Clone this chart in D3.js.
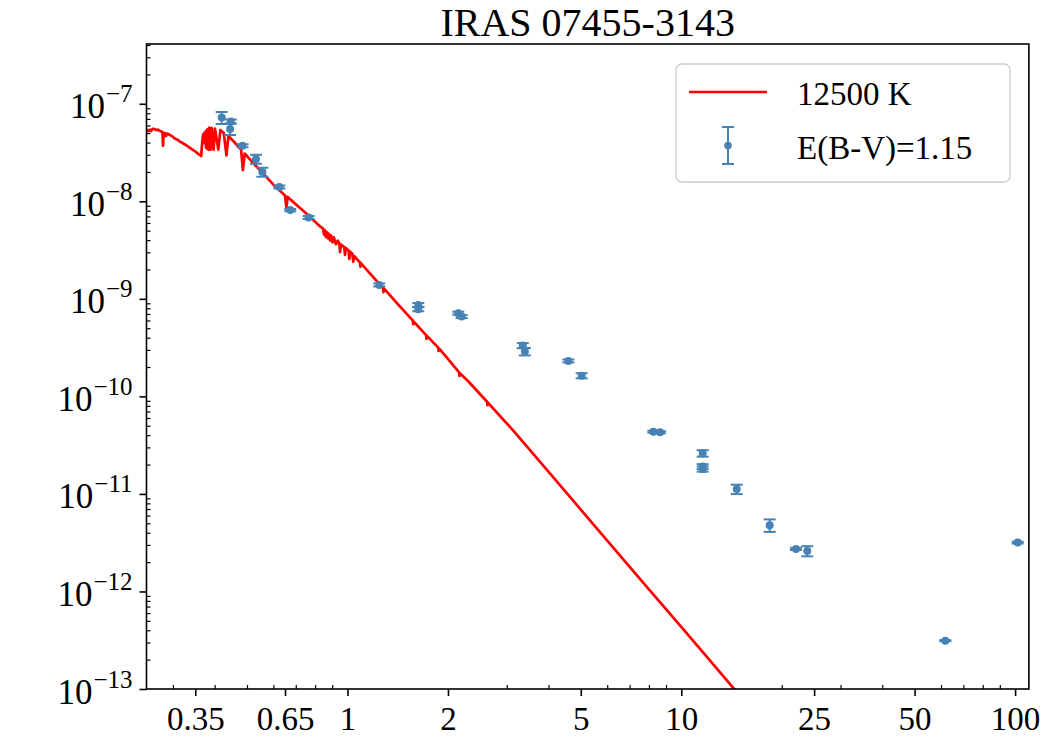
<!DOCTYPE html>
<html>
<head>
<meta charset="utf-8">
<script src="https://cdn.jsdelivr.net/npm/d3@7"></script>
<style>
  html, body { margin: 0; padding: 0; background: #ffffff; }
  svg { display: block; }
  text { font-family: "Liberation Serif", "DejaVu Serif", serif; fill: #000; }
</style>
</head>
<body>
<svg id="chart" width="1050" height="750"></svg>
<script>
// ---------------- data ----------------
const titleText = "IRAS 07455-3143";
const xLimits = [0.25, 110];
const yLimits = [1e-13, 4.1e-7];

// model spectrum (12500 K), wavelength in micron, flux
const modelWave = [
  0.250, 0.252, 0.254, 0.256, 0.258, 0.260, 0.262, 0.265, 0.268, 0.271,
  0.274, 0.277, 0.279, 0.2802, 0.2815, 0.284, 0.286, 0.288, 0.292, 0.296,
  0.300, 0.305, 0.310, 0.315, 0.320, 0.330, 0.340, 0.350, 0.358, 0.3646,
  0.3660, 0.3680, 0.3700, 0.3720, 0.3740, 0.3770, 0.3785, 0.3798, 0.3812, 0.3835,
  0.3858, 0.3889, 0.3920, 0.3970, 0.4010, 0.4102, 0.4160, 0.4260, 0.4340, 0.4400,
  0.4600, 0.4800, 0.4861, 0.4920, 0.5200, 0.5600, 0.6000, 0.6500, 0.6563, 0.6620,
  0.7000, 0.7500, 0.8000, 0.8204, 0.8300, 0.8450, 0.8502, 0.8545, 0.8598, 0.8630,
  0.8665, 0.8705, 0.8750, 0.8800, 0.8863, 0.8930, 0.9015, 0.9100, 0.9229, 0.9350,
  0.9450, 0.9500, 0.9560, 0.9780, 0.9830, 0.9890, 1.0080, 1.0130, 1.0190, 1.0350,
  1.0410, 1.0470, 1.0900, 1.0938, 1.0980, 1.2000, 1.2780, 1.2818, 1.2860, 1.4000,
  1.5700, 1.5740, 1.5780, 1.7200, 1.7250, 1.7300, 1.8700, 1.8750, 1.8800, 2.0000,
  2.1600, 2.1660, 2.1720, 2.3000, 2.6200, 2.6260, 2.6320, 3.1250, 4.0000, 5.0000,
  6.0000, 8.0000, 10.000, 12.000, 14.000, 16.000
];
const modelFlux = [
  5.13e-8, 5.37e-8, 5.25e-8, 5.43e-8, 5.25e-8, 5.47e-8, 5.56e-8, 5.47e-8, 5.37e-8, 5.43e-8,
  5.25e-8, 5.19e-8, 5.13e-8, 3.72e-8, 5.01e-8, 5.01e-8, 4.68e-8, 4.95e-8, 4.84e-8, 4.73e-8,
  4.57e-8, 4.37e-8, 4.27e-8, 4.07e-8, 3.98e-8, 3.72e-8, 3.47e-8, 3.24e-8, 3.05e-8, 2.92e-8,
  3.55e-8, 4.37e-8, 4.90e-8, 3.98e-8, 5.13e-8, 3.55e-8, 5.37e-8, 3.47e-8, 5.50e-8, 3.39e-8,
  5.69e-8, 3.39e-8, 5.62e-8, 3.39e-8, 5.56e-8, 3.39e-8, 5.37e-8, 5.01e-8, 2.95e-8, 4.68e-8,
  3.98e-8, 3.39e-8, 2.09e-8, 3.09e-8, 2.51e-8, 1.91e-8, 1.48e-8, 1.15e-8, 8.51e-9, 1.11e-8,
  9.33e-9, 7.59e-9, 6.17e-9, 5.68e-9, 5.50e-9, 5.25e-9, 4.57e-9, 5.07e-9, 4.37e-9, 4.90e-9,
  4.27e-9, 4.79e-9, 4.17e-9, 4.62e-9, 3.98e-9, 4.47e-9, 3.80e-9, 4.27e-9, 3.63e-9, 3.94e-9,
  3.72e-9, 3.02e-9, 3.59e-9, 3.39e-9, 2.82e-9, 3.31e-9, 3.13e-9, 2.57e-9, 3.05e-9, 2.88e-9,
  2.40e-9, 2.75e-9, 2.36e-9, 2.14e-9, 2.31e-9, 1.64e-9, 1.30e-9, 1.17e-9, 1.28e-9, 9.20e-10,
  5.97e-10, 5.50e-10, 5.86e-10, 4.25e-10, 3.89e-10, 4.17e-10, 3.16e-10, 2.92e-10, 3.10e-10, 2.42e-10,
  1.76e-10, 1.62e-10, 1.73e-10, 1.43e-10, 8.81e-11, 8.13e-11, 8.65e-11, 4.53e-11, 1.69e-11, 6.92e-12,
  3.33e-12, 1.05e-12, 4.33e-13, 2.08e-13, 1.12e-13, 6.59e-14
];

// photometry, E(B-V)=1.15 dereddened
const obsWave = [0.420, 0.447, 0.445, 0.485, 0.532, 0.556, 0.625, 0.674, 0.765, 1.245,
                 1.63, 1.63, 2.147, 2.198, 3.35, 3.40, 4.59, 5.03, 8.25, 8.64,
                 11.59, 11.59, 11.59, 14.66, 18.40, 22.06, 23.85, 61.8, 101.8];
const obsFlux = [7.22e-8, 6.58e-8, 5.51e-8, 3.71e-8, 2.71e-8, 2.00e-8, 1.40e-8, 8.13e-9, 6.83e-9, 1.39e-9,
                 8.67e-10, 7.83e-10, 7.13e-10, 6.58e-10, 3.32e-10, 2.88e-10, 2.31e-10, 1.63e-10, 4.35e-11, 4.29e-11,
                 2.61e-11, 1.91e-11, 1.80e-11, 1.12e-11, 4.78e-12, 2.73e-12, 2.60e-12, 3.13e-13, 3.17e-12];
const obsErr  = [1.0e-8, 3.0e-9, 7.2e-9, 1.3e-9, 2.9e-9, 2.1e-9, 5.0e-10, 2.0e-10, 2.4e-10, 5.0e-11,
                 4.0e-11, 3.7e-11, 2.5e-11, 2.3e-11, 2.0e-11, 2.5e-11, 8.0e-12, 1.0e-11, 1.0e-12, 1.0e-12,
                 2.0e-12, 1.1e-12, 1.1e-12, 1.24e-12, 7.0e-13, 7.0e-14, 3.1e-13, 4.0e-15, 7.0e-14];

const xMajorTicks = [0.35, 0.65, 1, 2, 5, 10, 25, 50, 100];
const xTickLabels = ["0.35", "0.65", "1", "2", "5", "10", "25", "50", "100"];
const xMinorTicks = [0.3, 0.4, 0.5, 0.6, 0.7, 0.8, 0.9, 3, 4, 6, 7, 8, 9, 20, 30, 40, 60, 70, 80, 90];
const yMajorTicks = [1e-13, 1e-12, 1e-11, 1e-10, 1e-9, 1e-8, 1e-7];
const yTickExponents = ["−13", "−12", "−11", "−10", "−9", "−8", "−7"];
const yMinorMantissas = [2, 3, 4, 5, 6, 7, 8, 9];

const legendLabels = ["12500 K", "E(B-V)=1.15"];

// ---------------- layout ----------------
const plot = { left: 146.5, right: 1028.9, top: 44, bottom: 689 };
const lineColor = "#ff0000";
const pointColor = "#4682b4";

const svg = d3.select("#chart");

const x = d3.scaleLog().domain(xLimits).range([plot.left, plot.right]);
const y = d3.scaleLog().domain(yLimits).range([plot.bottom, plot.top]);

svg.append("defs").append("clipPath").attr("id", "plotclip")
  .append("rect")
  .attr("x", plot.left).attr("y", plot.top)
  .attr("width", plot.right - plot.left).attr("height", plot.bottom - plot.top);

// model line
const modelData = modelWave.map((w, i) => [w, modelFlux[i]]);
svg.append("path")
  .datum(modelData)
  .attr("clip-path", "url(#plotclip)")
  .attr("fill", "none")
  .attr("stroke", lineColor)
  .attr("stroke-width", 2.7)
  .attr("stroke-linejoin", "round")
  .attr("d", d3.line().x(d => x(d[0])).y(d => y(d[1])));

// photometry with error bars
const obsData = obsWave.map((w, i) => ({ w, f: obsFlux[i], e: obsErr[i] }));
const pts = svg.append("g").attr("clip-path", "url(#plotclip)");
const capHalf = 6;
const g = pts.selectAll("g.pt").data(obsData).enter().append("g").attr("class", "pt");
g.append("line")
  .attr("x1", d => x(d.w)).attr("x2", d => x(d.w))
  .attr("y1", d => y(d.f + d.e)).attr("y2", d => y(Math.max(d.f - d.e, 1e-16)))
  .attr("stroke", pointColor).attr("stroke-width", 2);
g.append("line")
  .attr("x1", d => x(d.w) - capHalf).attr("x2", d => x(d.w) + capHalf)
  .attr("y1", d => y(d.f + d.e)).attr("y2", d => y(d.f + d.e))
  .attr("stroke", pointColor).attr("stroke-width", 2);
g.append("line")
  .attr("x1", d => x(d.w) - capHalf).attr("x2", d => x(d.w) + capHalf)
  .attr("y1", d => y(d.f - d.e)).attr("y2", d => y(d.f - d.e))
  .attr("stroke", pointColor).attr("stroke-width", 2);
g.append("circle")
  .attr("cx", d => x(d.w)).attr("cy", d => y(d.f)).attr("r", 4)
  .attr("fill", pointColor);

// ---------------- axes ----------------
const axisColor = "#000";
// bottom major
const xMajor = svg.append("g").attr("transform", `translate(0,${plot.bottom})`)
  .call(d3.axisBottom(x).tickValues(xMajorTicks).tickSize(7).tickSizeOuter(0)
        .tickFormat((d, i) => xTickLabels[i]));
xMajor.select(".domain").remove();
xMajor.selectAll(".tick line").attr("stroke", axisColor).attr("stroke-width", 1.6);
xMajor.selectAll(".tick text")
  .attr("font-size", 33).attr("font-family", "Liberation Serif, serif")
  .attr("dy", null).attr("y", 41);
// bottom minor (inward)
const xMinor = svg.append("g").attr("transform", `translate(0,${plot.bottom})`)
  .call(d3.axisBottom(x).tickValues(xMinorTicks).tickSize(-4).tickSizeOuter(0).tickFormat(""));
xMinor.select(".domain").remove();
xMinor.selectAll(".tick line").attr("stroke", axisColor).attr("stroke-width", 1.2);

// left major
const yMajor = svg.append("g").attr("transform", `translate(${plot.left},0)`)
  .call(d3.axisLeft(y).tickValues(yMajorTicks).tickSize(7).tickSizeOuter(0).tickFormat(""));
yMajor.select(".domain").remove();
yMajor.selectAll(".tick line").attr("stroke", axisColor).attr("stroke-width", 1.6);
yMajor.selectAll(".tick").each(function(d, i) {
  const t = d3.select(this).append("text")
    .attr("x", -14).attr("y", 14)
    .attr("text-anchor", "end")
    .attr("font-size", 35);
  t.append("tspan").text("10");
  t.append("tspan").attr("dx", 1).attr("dy", -16).attr("font-size", 25).text(yTickExponents[i]);
});
// left minor (inward)
const yMinorVals = [];
for (const dec of yMajorTicks) {
  for (const m of yMinorMantissas) {
    const v = m * dec;
    if (v > yLimits[0] && v < yLimits[1]) yMinorVals.push(v);
  }
}
const yMinor = svg.append("g").attr("transform", `translate(${plot.left},0)`)
  .call(d3.axisLeft(y).tickValues(yMinorVals).tickSize(-4).tickSizeOuter(0).tickFormat(""));
yMinor.select(".domain").remove();
yMinor.selectAll(".tick line").attr("stroke", axisColor).attr("stroke-width", 1.2);

// frame (spines)
svg.append("rect")
  .attr("x", plot.left).attr("y", plot.top)
  .attr("width", plot.right - plot.left).attr("height", plot.bottom - plot.top)
  .attr("fill", "none").attr("stroke", axisColor).attr("stroke-width", 1.6);

// title
svg.append("text")
  .attr("x", (plot.left + plot.right) / 2).attr("y", 36)
  .attr("text-anchor", "middle")
  .attr("font-size", 40)
  .text(titleText);

// ---------------- legend ----------------
const lg = svg.append("g");
lg.append("rect")
  .attr("x", 676).attr("y", 64).attr("width", 334).attr("height", 118)
  .attr("rx", 6).attr("ry", 6)
  .attr("fill", "#ffffff").attr("fill-opacity", 0.8)
  .attr("stroke", "#cccccc").attr("stroke-width", 1.3);
lg.append("line")
  .attr("x1", 689).attr("x2", 767).attr("y1", 92).attr("y2", 92)
  .attr("stroke", lineColor).attr("stroke-width", 2.7);
lg.append("text").attr("x", 797).attr("y", 105).attr("font-size", 33).text(legendLabels[0]);
lg.append("line").attr("x1", 728).attr("x2", 728).attr("y1", 127).attr("y2", 164)
  .attr("stroke", pointColor).attr("stroke-width", 2);
lg.append("line").attr("x1", 722).attr("x2", 734).attr("y1", 127).attr("y2", 127)
  .attr("stroke", pointColor).attr("stroke-width", 2);
lg.append("line").attr("x1", 722).attr("x2", 734).attr("y1", 164).attr("y2", 164)
  .attr("stroke", pointColor).attr("stroke-width", 2);
lg.append("circle").attr("cx", 728).attr("cy", 145.5).attr("r", 3.8).attr("fill", pointColor);
lg.append("text").attr("x", 797).attr("y", 159).attr("font-size", 33).text(legendLabels[1]);
</script>
</body>
</html>
